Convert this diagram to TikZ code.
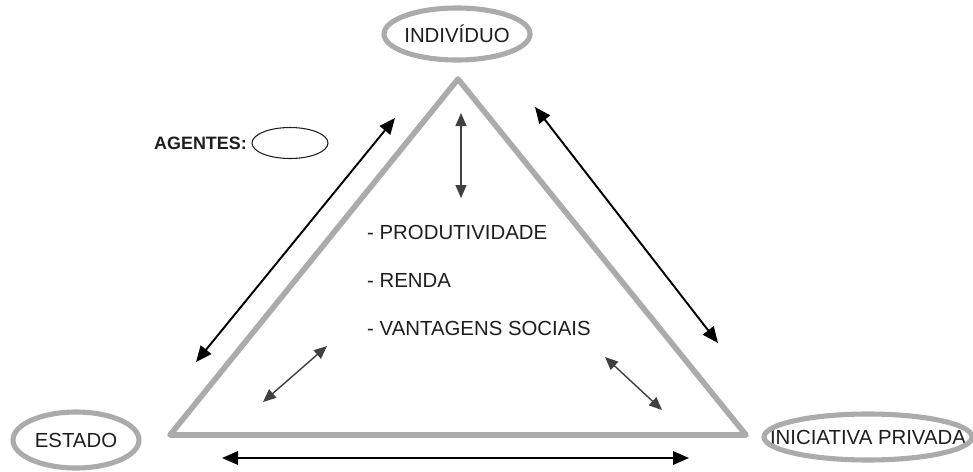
\documentclass[tikz,border=0pt]{standalone}
\usepackage{fontspec}
\setmainfont{Liberation Sans}
\usetikzlibrary{arrows.meta,shapes.geometric}
\definecolor{Frame}{HTML}{ABABAB}
\definecolor{Ink}{HTML}{1E1E1E}

\begin{document}
\begin{tikzpicture}[x=0.02cm,y=-0.02cm,every node/.style={font=\fontsize{11.6}{13}\selectfont,text=Ink},ring/.style={draw=Frame,line width=2.9pt},arrow/.style={{Triangle[length=3.2mm,width=2.7mm]}-{Triangle[length=3.2mm,width=2.7mm]},line width=1.1pt},smallarrow/.style={{Triangle[length=2.6mm,width=2.2mm]}-{Triangle[length=2.6mm,width=2.2mm]},line width=0.8pt,draw=Ink!85}]
\useasboundingbox[fill=white] (0,0) rectangle (973,471);

% triangle of the three agents
\draw[Frame,line width=3.2pt,line join=round] (458,79)--(746,435)--(170,435)--cycle;

\node (indiv) at (457,34) {INDIVÍDUO}; \draw[ring] (indiv) ellipse [x radius=73,y radius=26];
\node (estado) at (76,440) {ESTADO}; \draw[ring] (estado) ellipse [x radius=63,y radius=28];
\node (privada) at (868,437) {INICIATIVA PRIVADA}; \draw[ring] (privada) ellipse [x radius=104,y radius=23];

\node[font=\fontsize{10.2}{12}\selectfont\bfseries,anchor=east] (agentes) at (253,143) {AGENTES:};
\node[draw=Ink,line width=0.6pt,ellipse,minimum width=1.52cm,minimum height=0.62cm,inner sep=0pt] (agbox) at (290,143) {};

\node[anchor=west] (prod) at (361,232) {- PRODUTIVIDADE};
\node[anchor=west] (renda) at (361,280) {- RENDA};
\node[anchor=west] (vant) at (361,328) {- VANTAGENS SOCIAIS};

% arrow ends
\coordinate (la) at (196,362); \coordinate (lb) at (395,118);
\coordinate (ra) at (535,107); \coordinate (rb) at (718,343);
\coordinate (ba) at (222,458); \coordinate (bb) at (689,458);
\coordinate (va) at (461,113); \coordinate (vb) at (461,198);
\coordinate (sa) at (263,402); \coordinate (sb) at (327,346);
\coordinate (ta) at (605,357); \coordinate (tb) at (662,410);
\draw[arrow] (la)--(lb); \draw[arrow] (ra)--(rb); \draw[arrow] (ba)--(bb);
\draw[smallarrow] (va)--(vb); \draw[smallarrow] (sa)--(sb); \draw[smallarrow] (ta)--(tb);

\end{tikzpicture}
\end{document}
